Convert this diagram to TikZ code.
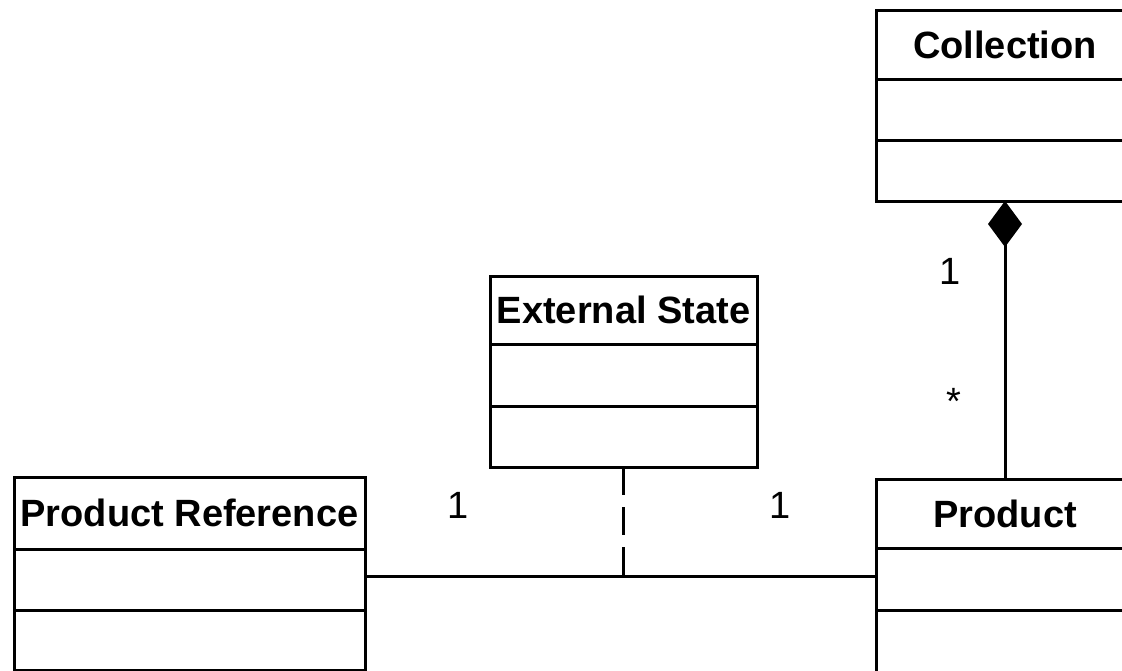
\documentclass[tikz,border=0pt]{standalone}
\usepackage{fontspec}
\setmainfont{Liberation Sans}
\usetikzlibrary{arrows.meta}
\begin{document}
\begin{tikzpicture}[x=1pt,y=-1pt,
  compart/.style={draw=black, line width=3pt, fill=white, inner sep=0pt, outer sep=0pt},
  classtitle/.style={compart, font=\fontsize{38}{40}\bfseries\selectfont},
  mult/.style={font=\fontsize{38}{40}\selectfont, anchor=base, inner sep=0pt},
  assocline/.style={line width=3pt},
  classlink/.style={line width=2.4pt, dash pattern=on 28pt off 12pt},
  composition/.style={line width=3pt, {Diamond[length=46pt,width=34pt]}-}
]
\useasboundingbox (0,0) rectangle (1122,670);
\clip (0,0) rectangle (1122,670);
\fill[white] (0,0) rectangle (1122,670);

% Product Reference
\node[classtitle, minimum width=351pt, minimum height=72pt] (pref) at (189.5,513) {Product Reference};
\node[compart, minimum width=351pt, minimum height=61pt] (pref-a) at (189.5,579.5) {};
\node[compart, minimum width=351pt, minimum height=60pt] (pref-b) at (189.5,640) {};

% External State
\node[classtitle, minimum width=267pt, minimum height=68pt] (ext) at (623.5,310) {External State};
\node[compart, minimum width=267pt, minimum height=62pt] (ext-a) at (623.5,375) {};
\node[compart, minimum width=267pt, minimum height=61pt] (ext-b) at (623.5,436.5) {};

% Collection
\node[classtitle, minimum width=258pt, minimum height=69pt] (coll) at (1005,44.5) {Collection};
\node[compart, minimum width=258pt, minimum height=61pt] (coll-a) at (1005,109.5) {};
\node[compart, minimum width=258pt, minimum height=61pt] (coll-b) at (1005,170.5) {};

% Product
\node[classtitle, minimum width=258pt, minimum height=69pt] (prod) at (1005,513.5) {Product};
\node[compart, minimum width=258pt, minimum height=62pt] (prod-a) at (1005,579) {};
\node[compart, minimum width=258pt, minimum height=62pt] (prod-b) at (1005,641) {};

% association between Product Reference and Product
\coordinate (aL) at ([yshift=3.5pt]pref-a.east);
\coordinate (aR) at (aL -| prod-a.west);
\coordinate (aM) at (aL -| ext-b.south);
\draw[assocline] (aL) -- (aR);

% association class link
\draw[classlink] (ext-b.south) -- (aM);

% composition Collection <>-- Product
\draw[composition] (coll-b.south) -- (prod.north);

% multiplicities
\node[mult] (m1) at (458,518) {1};
\node[mult] (m2) at (780,518) {1};
\node[mult] (m3) at (950,284) {1};
\node[mult] (m4) at (954,414) {*};
\end{tikzpicture}
\end{document}
